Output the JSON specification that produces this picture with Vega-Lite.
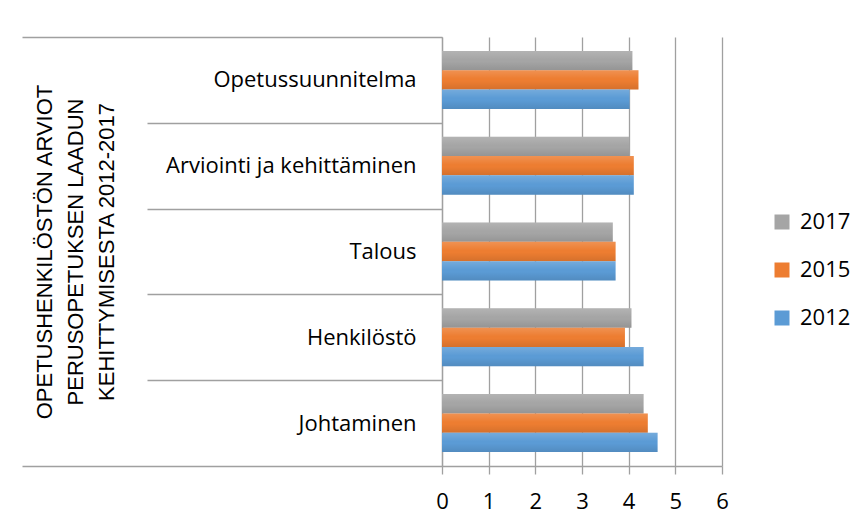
{
  "$schema": "https://vega.github.io/schema/vega-lite/v6.json",
  "width": 280,
  "height": 429,
  "autosize": "none",
  "padding": {"left": 442, "top": 37, "right": 144, "bottom": 63},
  "background": "white",
  "config": {"view": {"stroke": null}},
  "data": {
    "values": [
      {"kategoria": "Opetussuunnitelma", "vuosi": "2017", "arvo": 4.08},
      {"kategoria": "Opetussuunnitelma", "vuosi": "2015", "arvo": 4.21},
      {"kategoria": "Opetussuunnitelma", "vuosi": "2012", "arvo": 4.02},
      {"kategoria": "Arviointi ja kehittäminen", "vuosi": "2017", "arvo": 4.01},
      {"kategoria": "Arviointi ja kehittäminen", "vuosi": "2015", "arvo": 4.11},
      {"kategoria": "Arviointi ja kehittäminen", "vuosi": "2012", "arvo": 4.11},
      {"kategoria": "Talous", "vuosi": "2017", "arvo": 3.66},
      {"kategoria": "Talous", "vuosi": "2015", "arvo": 3.72},
      {"kategoria": "Talous", "vuosi": "2012", "arvo": 3.72},
      {"kategoria": "Henkilöstö", "vuosi": "2017", "arvo": 4.06},
      {"kategoria": "Henkilöstö", "vuosi": "2015", "arvo": 3.92},
      {"kategoria": "Henkilöstö", "vuosi": "2012", "arvo": 4.32},
      {"kategoria": "Johtaminen", "vuosi": "2017", "arvo": 4.32},
      {"kategoria": "Johtaminen", "vuosi": "2015", "arvo": 4.41},
      {"kategoria": "Johtaminen", "vuosi": "2012", "arvo": 4.62}
    ]
  },
  "encoding": {
    "y": {
      "field": "kategoria",
      "type": "nominal",
      "sort": ["Opetussuunnitelma", "Arviointi ja kehittäminen", "Talous", "Henkilöstö", "Johtaminen"],
      "scale": {"paddingInner": 0, "paddingOuter": 0},
      "axis": {
        "title": ["OPETUSHENKILÖSTÖN ARVIOT", "PERUSOPETUKSEN LAADUN", "KEHITTYMISESTA 2012-2017"],
        "titleFont": "Liberation Sans",
        "titleFontSize": 22,
        "titleFontWeight": "normal",
        "titleColor": "#000000",
        "titleAngle": 270,
        "titleX": -398,
        "titleY": 214.5,
        "titleAlign": "center",
        "titleBaseline": "middle",
        "titleLineHeight": 31,
        "tickBand": "extent",
        "tickSize": {"condition": {"test": "datum.extra || datum.value === 'Johtaminen'", "value": 420}, "value": 295},
        "labelPadding": {"condition": {"test": "datum.value === 'Johtaminen'", "value": -394}, "value": -269},
        "tickColor": "#a0a0a0",
        "tickWidth": 1.3,
        "domainColor": "#a0a0a0",
        "domainWidth": 1.3,
        "labelFont": "Open Sans",
        "labelFontSize": 22,
        "labelColor": "#000000",
        "labelAlign": "right",
        "labelBaseline": "middle",
        "labelLimit": 400
      }
    },
    "yOffset": {
      "field": "vuosi",
      "type": "nominal",
      "sort": ["2017", "2015", "2012"],
      "scale": {"paddingInner": 0, "paddingOuter": 0.72}
    },
    "x": {
      "field": "arvo",
      "type": "quantitative",
      "scale": {"domain": [0, 6], "nice": false},
      "axis": {
        "title": null,
        "values": [0, 1, 2, 3, 4, 5, 6],
        "grid": true,
        "gridColor": "#a0a0a0",
        "gridWidth": 1.3,
        "tickSize": 8,
        "tickColor": "#a0a0a0",
        "tickWidth": 1.3,
        "domainColor": "#a0a0a0",
        "domainWidth": 1.3,
        "labelFont": "Open Sans",
        "labelFontSize": 22,
        "labelColor": "#000000",
        "labelPadding": 17,
        "labelFlush": false
      }
    }
  },
  "layer": [
    {
      "mark": {"type": "bar"},
      "encoding": {
        "color": {
          "field": "vuosi",
          "type": "nominal",
          "scale": {"domain": ["2017", "2015", "2012"], "range": ["#A5A5A5", "#ED7D31", "#5B9BD5"]},
          "legend": {
            "title": null,
            "orient": "none",
            "legendX": 329,
            "legendY": 174,
            "padding": 0,
            "symbolType": "square",
            "symbolSize": 225,
            "symbolStrokeWidth": 0,
            "labelFont": "Open Sans",
            "labelFontSize": 22,
            "labelColor": "#000000",
            "labelOffset": 7,
            "rowPadding": 26
          }
        }
      }
    },
    {
      "mark": {
        "type": "bar",
        "fill": {
          "gradient": "linear",
          "x1": 0, "y1": 0, "x2": 0, "y2": 1,
          "stops": [
            {"offset": 0, "color": "rgba(255,255,255,0.16)"},
            {"offset": 0.45, "color": "rgba(255,255,255,0)"},
            {"offset": 0.55, "color": "rgba(0,0,0,0)"},
            {"offset": 1, "color": "rgba(0,0,0,0.1)"}
          ]
        }
      }
    }
  ]
}
